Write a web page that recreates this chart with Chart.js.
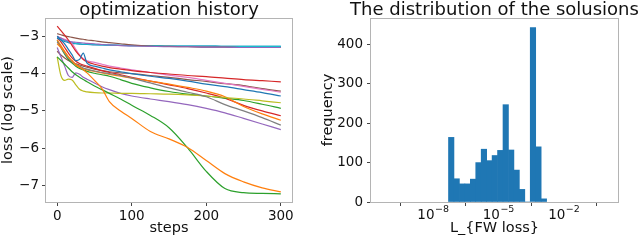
<!DOCTYPE html>
<html>
<head>
<meta charset="utf-8">
<script src="https://cdn.jsdelivr.net/npm/chart.js@4.4.1/dist/chart.umd.min.js"></script>
<style>
    html, body { margin: 0; padding: 0; background: #fff; }
    #wrap { position: relative; width: 640px; height: 242px; }
    canvas { position: absolute; top: 0; }
    #lossCanvas { left: 0; }
    #histCanvas { left: 320px; }
</style>
</head>
<body>
<div id="wrap">
    <canvas id="lossCanvas" width="320" height="242"></canvas>
    <canvas id="histCanvas" width="320" height="242"></canvas>
</div>
<script>
// ── Data: optimization history (log10 loss) ───────────────────────────────
var steps = [0, 5, 10, 15, 20, 25, 30, 35, 40, 50, 60, 70, 85, 100, 125, 150, 175, 200, 225, 250, 275, 300];

var lossBlue    = [-3.0, -3.1, -3.2, -3.35, -3.5, -3.65, -3.62, -3.45, -3.72, -3.8, -3.85, -3.9, -3.95, -4.0, -4.07, -4.13, -4.2, -4.28, -4.35, -4.43, -4.51, -4.6];
var lossOrange  = [-3.2, -3.3, -3.42, -3.55, -3.65, -3.75, -3.82, -3.9, -3.98, -4.18, -4.4, -4.75, -5.0, -5.2, -5.55, -5.75, -5.98, -6.33, -6.68, -6.9, -7.06, -7.17];
var lossGreen   = [-3.55, -3.65, -3.75, -3.85, -3.95, -4.03, -4.1, -4.16, -4.22, -4.33, -4.43, -4.53, -4.68, -4.85, -5.12, -5.45, -5.99, -6.62, -7.08, -7.19, -7.21, -7.22];
var lossRed     = [-2.73, -2.85, -2.97, -3.1, -3.25, -3.4, -3.52, -3.62, -3.68, -3.75, -3.8, -3.84, -3.88, -3.92, -3.97, -4.01, -4.05, -4.08, -4.12, -4.16, -4.19, -4.22];
var lossPurple  = [-3.0, -3.05, -3.1, -3.13, -3.15, -3.16, -3.17, -3.18, -3.19, -3.2, -3.22, -3.23, -3.25, -3.26, -3.27, -3.28, -3.28, -3.29, -3.29, -3.3, -3.3, -3.3];
var lossBrown   = [-2.93, -2.96, -2.99, -3.01, -3.03, -3.05, -3.07, -3.08, -3.1, -3.12, -3.15, -3.17, -3.2, -3.23, -3.26, -3.27, -3.28, -3.29, -3.29, -3.3, -3.3, -3.3];
var lossPink    = [-3.0, -3.05, -3.08, -3.12, -3.2, -3.35, -3.5, -3.6, -3.66, -3.7, -3.75, -3.8, -3.85, -3.9, -3.97, -4.04, -4.1, -4.18, -4.26, -4.34, -4.42, -4.5];
var lossGray    = [-3.15, -3.3, -3.45, -3.58, -3.68, -3.75, -3.8, -3.85, -3.88, -3.93, -3.97, -4.0, -4.05, -4.12, -4.25, -4.38, -4.5, -4.62, -4.83, -5.0, -5.18, -5.38];
var lossOlive   = [-3.55, -4.05, -4.18, -4.15, -4.17, -4.3, -4.42, -4.47, -4.49, -4.51, -4.52, -4.52, -4.53, -4.53, -4.54, -4.55, -4.57, -4.6, -4.64, -4.68, -4.73, -4.78];
var lossCyan    = [-3.02, -3.08, -3.12, -3.15, -3.17, -3.19, -3.2, -3.21, -3.21, -3.22, -3.23, -3.23, -3.24, -3.25, -3.25, -3.26, -3.26, -3.26, -3.27, -3.27, -3.27, -3.27];
var lossBlue2   = [-3.05, -3.1, -3.14, -3.17, -3.19, -3.2, -3.21, -3.22, -3.22, -3.23, -3.23, -3.24, -3.24, -3.25, -3.25, -3.26, -3.26, -3.26, -3.27, -3.27, -3.27, -3.27];
var lossOrange2 = [-3.1, -3.25, -3.4, -3.55, -3.68, -3.77, -3.83, -3.87, -3.9, -3.94, -3.98, -4.02, -4.07, -4.12, -4.2, -4.28, -4.37, -4.47, -4.62, -4.88, -5.08, -5.25];
var lossGreen2  = [-3.1, -3.3, -3.48, -3.62, -3.72, -3.8, -3.86, -3.9, -3.94, -3.99, -4.03, -4.07, -4.16, -4.26, -4.38, -4.48, -4.55, -4.6, -4.66, -4.72, -4.82, -4.93];
var lossRed2    = [-3.05, -3.15, -3.3, -3.45, -3.58, -3.67, -3.73, -3.77, -3.8, -3.86, -3.92, -3.97, -4.03, -4.1, -4.2, -4.3, -4.4, -4.52, -4.66, -4.85, -5.0, -5.13];
var lossPurple2 = [-3.3, -3.55, -3.8, -4.05, -4.1, -3.98, -4.02, -4.1, -4.15, -4.25, -4.35, -4.43, -4.53, -4.6, -4.68, -4.75, -4.83, -4.93, -5.05, -5.2, -5.35, -5.5];
var lossBrown2  = [-3.4, -3.5, -3.58, -3.65, -3.7, -3.74, -3.77, -3.8, -3.83, -3.88, -3.92, -3.95, -3.98, -4.0, -4.05, -4.1, -4.16, -4.21, -4.27, -4.32, -4.4, -4.47];

var lossRuns = [lossBlue, lossOrange, lossGreen, lossRed, lossPurple, lossBrown, lossPink, lossGray, lossOlive, lossCyan,
                lossBlue2, lossOrange2, lossGreen2, lossRed2, lossPurple2, lossBrown2];

var stepTicks = [0, 100, 200, 300];
var lossTicks = [-3, -4, -5, -6, -7];

// ── Data: histogram of solutions (bin centres as log10 L_FW) ──────────────
var binExp    = [-7.16, -6.91, -6.66, -6.41, -6.16, -5.91, -5.66, -5.41, -5.16, -4.91, -4.66, -4.41, -4.16, -3.91, -3.66, -3.41, -3.16, -2.91];
var binCounts = [164, 59, 46, 46, 58, 100, 134, 105, 118, 131, 247, 132, 81, 32, 0, 443, 140, 8];

var freqTicks  = [0, 100, 200, 300, 400];
var lfwTickExp = [-8, -5, -2];

// ── Style ─────────────────────────────────────────────────────────────────
var tab10 = ['#1f77b4', '#ff7f0e', '#2ca02c', '#d62728', '#9467bd', '#8c564b', '#e377c2', '#7f7f7f', '#bcbd22', '#17becf'];
var FONT = 'DejaVu Sans';
var INK = '#111';

(function () {
    'use strict';

    Chart.defaults.font.family = FONT;
    Chart.defaults.color = INK;

    // ── Helpers ───────────────────────────────────────────────────────────
    function minus(v) {
        return String(v).replace('-', '\u2212');
    }

    function fixTicks(values) {
        return function (scale) {
            scale.ticks = values.map(function (v) { return { value: v }; });
        };
    }

    function axisGrid() {
        return { display: true, drawOnChartArea: false, drawTicks: true, tickLength: 4, color: '#444', lineWidth: 1 };
    }

    // frame round the plot area, like matplotlib spines
    var framePlugin = {
        id: 'frame',
        afterDatasetsDraw: function (chart) {
            var a = chart.chartArea, ctx = chart.ctx;
            ctx.save();
            ctx.strokeStyle = '#b4b4b4';
            ctx.lineWidth = 1;
            ctx.strokeRect(Math.round(a.left) - 0.5, Math.round(a.top) + 0.5,
                Math.round(a.right - a.left) + 1, Math.round(a.bottom - a.top));
            ctx.restore();
        }
    };

    function titlePlugin(text) {
        return {
            id: 'panelTitle',
            afterDraw: function (chart) {
                var a = chart.chartArea, ctx = chart.ctx;
                ctx.save();
                ctx.font = '18px "' + FONT + '"';
                ctx.fillStyle = INK;
                ctx.textAlign = 'center';
                ctx.textBaseline = 'alphabetic';
                ctx.fillText(text, (a.left + a.right) / 2, 15);
                ctx.restore();
            }
        };
    }

    // 10^n labels with a raised exponent, placed by the x scale
    var powerLabels = {
        id: 'powerLabels',
        afterDraw: function (chart) {
            var scale = chart.scales.x, ctx = chart.ctx;
            var y = chart.chartArea.bottom + 17;
            ctx.save();
            ctx.fillStyle = INK;
            ctx.textBaseline = 'alphabetic';
            ctx.textAlign = 'left';
            lfwTickExp.forEach(function (e) {
                var base = '10', sup = minus(e);
                ctx.font = '13.5px "' + FONT + '"';
                var wb = ctx.measureText(base).width;
                ctx.font = '9.5px "' + FONT + '"';
                var ws = ctx.measureText(sup).width;
                var x0 = scale.getPixelForValue(Math.pow(10, e)) - (wb + ws) / 2;
                ctx.font = '13.5px "' + FONT + '"';
                ctx.fillText(base, x0, y);
                ctx.font = '9.5px "' + FONT + '"';
                ctx.fillText(sup, x0 + wb + 0.5, y - 7);
            });
            ctx.restore();
        }
    };

    // ── Left: optimization history ────────────────────────────────────────
    function initLossChart() {
        var el = document.getElementById('lossCanvas');
        var datasets = lossRuns.map(function (run, i) {
            return {
                data: steps.map(function (s, k) { return { x: s, y: run[k] }; }),
                borderColor: tab10[i % tab10.length],
                borderWidth: 1.2,
                pointRadius: 0,
                fill: false,
                cubicInterpolationMode: 'monotone'
            };
        });

        new Chart(el.getContext('2d'), {
            type: 'line',
            data: { datasets: datasets },
            options: {
                responsive: false,
                animation: false,
                devicePixelRatio: 1,
                layout: { padding: { top: 18, right: 28, left: 0, bottom: 0 } },
                plugins: { legend: { display: false }, tooltip: { enabled: false } },
                scales: {
                    x: {
                        type: 'linear', min: -15, max: 315,
                        afterBuildTicks: fixTicks(stepTicks),
                        afterFit: function (s) { s.height = 40; },
                        grid: axisGrid(),
                        border: { display: false },
                        ticks: { font: { size: 13.5 }, padding: 2, color: INK, maxRotation: 0 },
                        title: { display: true, text: 'steps', font: { size: 14.5 }, color: INK, padding: { top: 0, bottom: 5 } }
                    },
                    y: {
                        type: 'linear', min: -7.44, max: -2.51,
                        afterBuildTicks: fixTicks(lossTicks),
                        afterFit: function (s) { s.width = 46; },
                        grid: axisGrid(),
                        border: { display: false },
                        ticks: { font: { size: 13.5 }, padding: 3, color: INK, callback: function (v) { return minus(v); } },
                        title: { display: true, text: 'loss (log scale)', font: { size: 14.5 }, color: INK, padding: { top: 0, bottom: 0 } }
                    }
                }
            },
            plugins: [framePlugin, titlePlugin('optimization history')]
        });
    }

    // ── Right: distribution of the solutions ──────────────────────────────
    function initHistChart() {
        var el = document.getElementById('histCanvas');
        var bins = binExp.map(function (e, i) { return { x: Math.pow(10, e), y: binCounts[i] }; });

        new Chart(el.getContext('2d'), {
            type: 'bar',
            data: {
                datasets: [{
                    data: bins,
                    backgroundColor: '#1f77b4',
                    borderWidth: 0,
                    barPercentage: 1,
                    categoryPercentage: 1
                }]
            },
            options: {
                responsive: false,
                animation: false,
                devicePixelRatio: 1,
                layout: { padding: { top: 18, right: 22, left: 0, bottom: 0 } },
                plugins: { legend: { display: false }, tooltip: { enabled: false } },
                scales: {
                    x: {
                        type: 'logarithmic',
                        min: Math.pow(10, -10.84), max: Math.pow(10, 0.49),
                        offset: false,
                        afterBuildTicks: fixTicks(lfwTickExp.map(function (e) { return Math.pow(10, e); })),
                        afterFit: function (s) { s.height = 40; },
                        grid: axisGrid(),
                        border: { display: false },
                        // labels are drawn by powerLabels so the exponent can be raised
                        ticks: { font: { size: 13.5 }, padding: 2, maxRotation: 0, autoSkip: false, callback: function () { return ''; } },
                        title: { display: true, text: 'L_{FW loss}', font: { size: 14.5 }, color: INK, padding: { top: 0, bottom: 5 } }
                    },
                    y: {
                        type: 'linear', min: 0, max: 467,
                        afterBuildTicks: fixTicks(freqTicks),
                        afterFit: function (s) { s.width = 51; },
                        grid: axisGrid(),
                        border: { display: false },
                        ticks: { font: { size: 13.5 }, padding: 4, color: INK },
                        title: { display: true, text: 'frequency', font: { size: 14.5 }, color: INK, padding: { top: 0, bottom: 0 } }
                    }
                }
            },
            plugins: [framePlugin, powerLabels, titlePlugin('The distribution of the solusions')]
        });
    }

    // ── Boot ──────────────────────────────────────────────────────────────
    initLossChart();
    initHistChart();
})();
</script>
</body>
</html>
